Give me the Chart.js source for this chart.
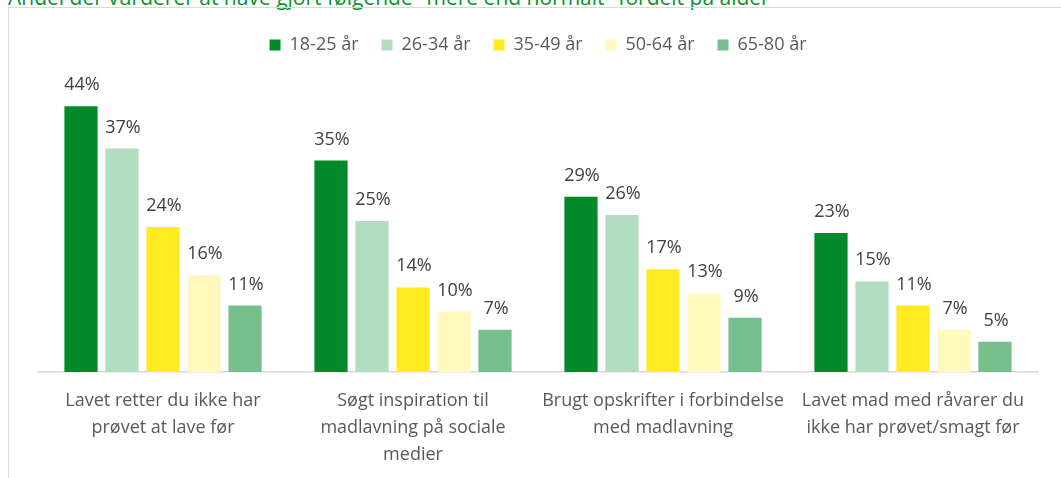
<!DOCTYPE html>
<html>
<head>
<meta charset="utf-8">
<script src="https://cdn.jsdelivr.net/npm/chart.js@4.4.0/dist/chart.umd.min.js"></script>
<style>
  html, body { margin: 0; padding: 0; background: #fff; overflow: hidden; }
  #wrap { position: relative; width: 1061px; height: 478px; }
  #frame { position: absolute; left: 8px; top: 7px; width: 1100px; height: 500px; border: 1px solid #d9d9d9; }
  #title { position: absolute; left: 8px; top: -15px; white-space: nowrap;
           font: 21px "Open Sans", sans-serif; color: #0a912e; line-height: 24px; }
  #myChart { position: absolute; left: 0; top: 0; }
</style>
</head>
<body>
<div id="wrap">
  <div id="title">Andel der vurderer at have gjort følgende "mere end normalt" fordelt på alder</div>
  <div id="frame"></div>
  <canvas id="myChart" width="1061" height="478"></canvas>
</div>
<script>
const categories = [
    ['Lavet retter du ikke har', 'prøvet at lave før'],
    ['Søgt inspiration til', 'madlavning på sociale', 'medier'],
    ['Brugt opskrifter i forbindelse', 'med madlavning'],
    ['Lavet mad med råvarer du', 'ikke har prøvet/smagt før']
];
const seriesNames = ['18-25 år', '26-34 år', '35-49 år', '50-64 år', '65-80 år'];
const age18to25 = [44, 35, 29, 23];
const age26to34 = [37, 25, 26, 15];
const age35to49 = [24, 14, 17, 11];
const age50to64 = [16, 10, 13, 7];
const age65to80 = [11, 7, 9, 5];
const colors = ['#028a2a', '#b3ddc0', '#ffeb1f', '#fff9bd', '#76bf8c'];

// value labels above the bars
const barLabels = {
    id: 'barLabels',
    afterDatasetsDraw(chart) {
        const ctx = chart.ctx;
        ctx.save();
        ctx.font = '18px "Open Sans", sans-serif';
        ctx.fillStyle = '#404040';
        ctx.textAlign = 'center';
        ctx.textBaseline = 'alphabetic';
        chart.data.datasets.forEach((ds, i) => {
            chart.getDatasetMeta(i).data.forEach((bar, j) => {
                ctx.fillText(ds.data[j] + '%', bar.x + 1, bar.y - 16);
            });
        });
        ctx.restore();
    }
};

// extra room under the legend
const legendGap = {
    id: 'legendGap',
    afterInit(chart) {
        const fit = chart.legend.fit;
        chart.legend.fit = function () {
            fit.bind(chart.legend)();
            this.height += 6;
        };
    }
};

function initBarChart() {
    const ctx = document.getElementById('myChart').getContext('2d');
    const values = [age18to25, age26to34, age35to49, age50to64, age65to80];
    new Chart(ctx, {
        type: 'bar',
        data: {
            labels: categories,
            datasets: values.map((v, i) => ({
                label: seriesNames[i],
                data: v,
                backgroundColor: colors[i],
                borderWidth: 0,
                categoryPercentage: 0.82,
                barPercentage: 0.81
            }))
        },
        options: {
            responsive: false,
            animation: false,
            layout: { padding: { left: 38, right: 23, top: 13, bottom: 0 } },
            plugins: {
                legend: {
                    position: 'top',
                    labels: {
                        boxWidth: 11,
                        boxHeight: 11,
                        padding: 23,
                        color: '#595959',
                        font: { family: 'Open Sans', size: 18 }
                    }
                },
                tooltip: { enabled: false }
            },
            scales: {
                y: {
                    display: false,
                    min: 0,
                    max: 50
                },
                x: {
                    grid: { display: false, drawTicks: false },
                    border: { display: true, color: '#d9d9d9', width: 1.5 },
                    ticks: {
                        color: '#595959',
                        padding: 15,
                        maxRotation: 0,
                        autoSkip: false,
                        font: { family: 'Open Sans', size: 18, lineHeight: 1.5 }
                    },
                    afterFit(scale) { scale.height = 106; }
                }
            }
        },
        plugins: [barLabels, legendGap]
    });
}

document.addEventListener('DOMContentLoaded', initBarChart);
</script>
</body>
</html>
